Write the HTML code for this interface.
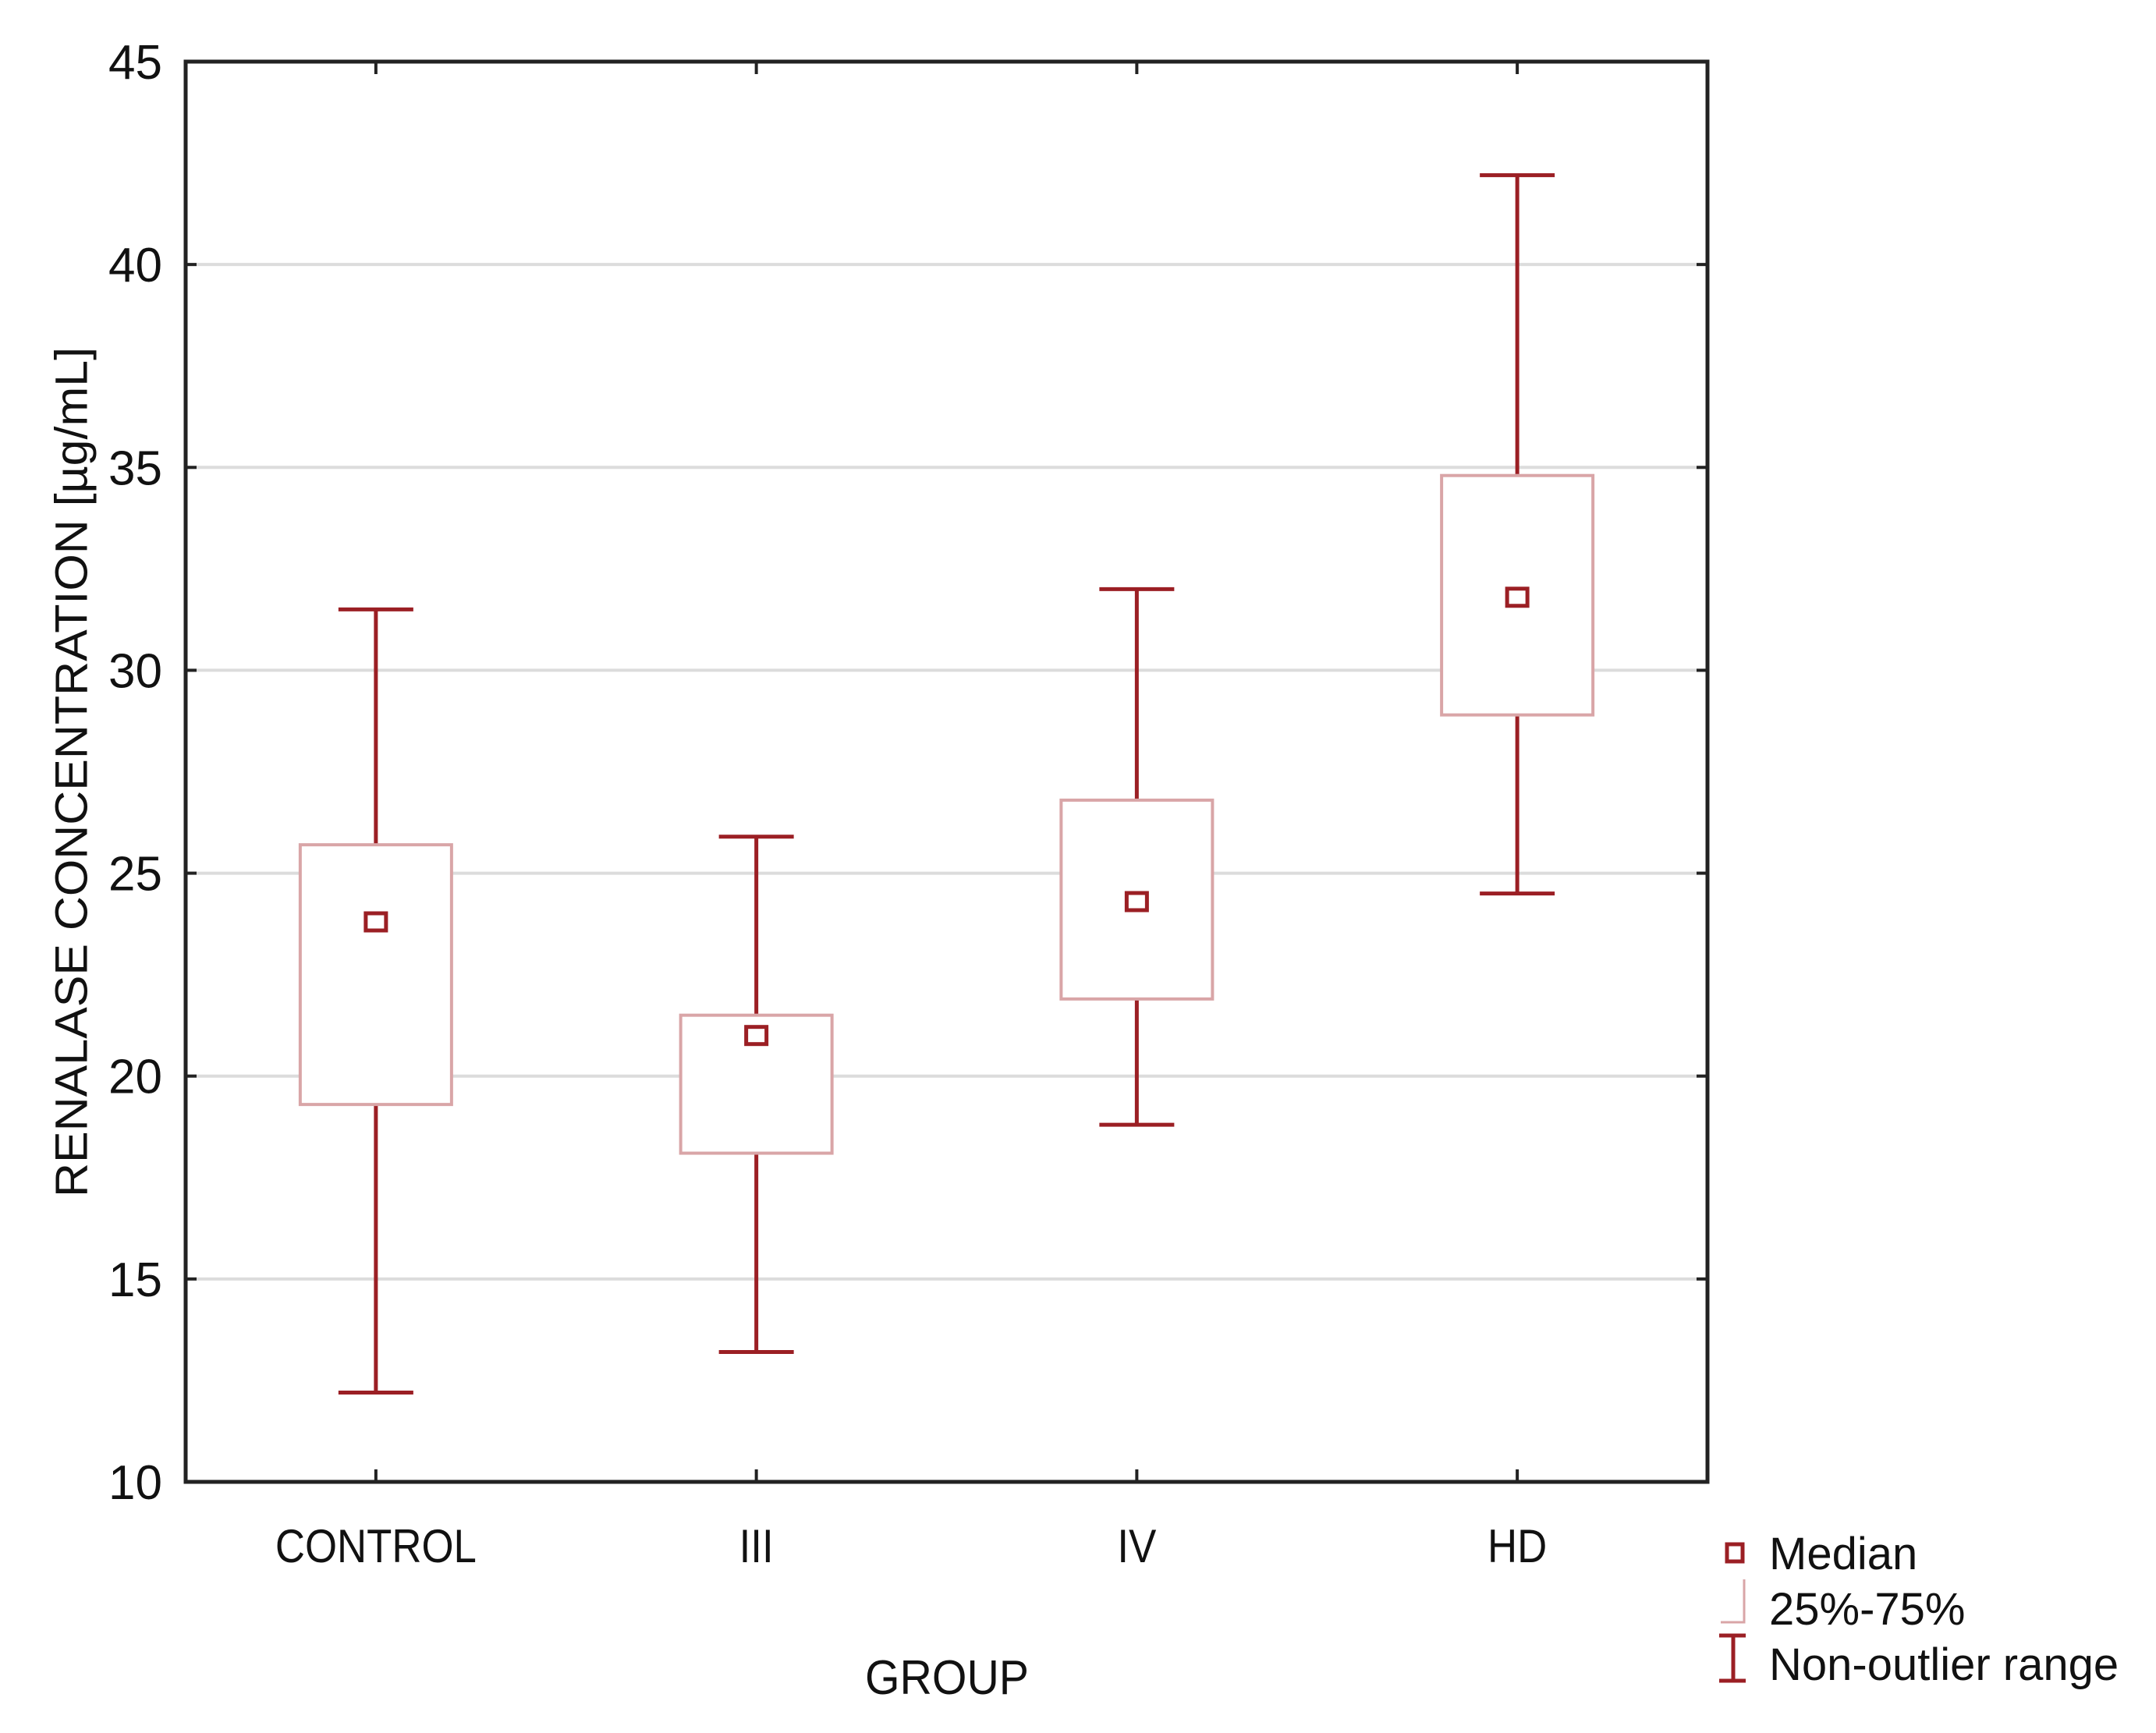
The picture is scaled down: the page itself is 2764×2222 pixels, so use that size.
<!DOCTYPE html>
<html><head><meta charset="utf-8"><style>
html,body{margin:0;padding:0;background:#fff;}
svg{display:block;}
text{font-family:"Liberation Sans",sans-serif;fill:#111;}
</style></head><body>
<svg id="chart" width="2764" height="2222" viewBox="0 0 2764 2222" xmlns="http://www.w3.org/2000/svg">
<rect x="0" y="0" width="2764" height="2222" fill="#fff"/>
<g id="grid"></g>
<g id="marks"></g>
<rect x="238" y="79" width="1951" height="1821" fill="none" stroke="#222" stroke-width="5"/>
<g id="axes"></g>
<text x="92" y="990" transform="rotate(-90 92 990)" text-anchor="middle" font-size="58" textLength="1090" lengthAdjust="spacingAndGlyphs" dominant-baseline="central">RENALASE CONCENTRATION [µg/mL]</text>
<text x="1214" y="2172" text-anchor="middle" font-size="62" textLength="210" lengthAdjust="spacingAndGlyphs">GROUP</text>
<g>
  <rect x="2214" y="1980" width="20" height="22" fill="none" stroke="#9b1f24" stroke-width="5"/>
  <text x="2268" y="2012" font-size="58">Median</text>
  <polyline points="2206,2080 2236,2080 2236,2025" fill="none" stroke="#d9a5a7" stroke-width="3"/>
  <text x="2268" y="2083" font-size="58">25%-75%</text>
  <path d="M2204 2097 H2238 M2222 2097 V2155 M2204 2155 H2238" fill="none" stroke="#9b1f24" stroke-width="5"/>
  <text x="2268" y="2154" font-size="58">Non-outlier range</text>
</g>
</svg>
<script>
const categories = ["CONTROL","III","IV","HD"];
const whiskerHigh = [31.5, 25.9, 32.0, 42.2];
const whiskerLow = [12.2, 13.2, 18.8, 24.5];
const q3 = [25.7, 21.5, 26.8, 34.8];
const q1 = [19.3, 18.1, 21.9, 28.9];
const medians = [23.8, 21.0, 24.3, 31.8];
const yTicks = [10, 15, 20, 25, 30, 35, 40, 45];

const NS = "http://www.w3.org/2000/svg";
const L = 238, R = 2189, T = 79, B = 1900, yMin = 10, yMax = 45;
function yScale(v){ return B - (v - yMin) / (yMax - yMin) * (B - T); }
function xScale(i){ return L + (R - L) / categories.length * (i + 0.5); }
function mk(tag, attrs, parent){ const e = document.createElementNS(NS, tag); for (const k in attrs) e.setAttribute(k, attrs[k]); parent.appendChild(e); return e; }

const grid = document.getElementById("grid");
const axes = document.getElementById("axes");
const marks = document.getElementById("marks");

yTicks.forEach(v => {
  const y = yScale(v);
  if (v > yMin && v < yMax) {
    const g = mk("line", {x1: L, x2: R, y1: y, y2: y, stroke: "#dcdcdc", "stroke-width": 4}, grid);
    
    
  }
  const t1 = mk("line", {x1: L, x2: L + 14, y1: y, y2: y, stroke: "#222", "stroke-width": 4}, axes);
  
  
  const t2 = mk("line", {x1: R - 14, x2: R, y1: y, y2: y, stroke: "#222", "stroke-width": 4}, axes);
  
  
  const lb = mk("text", {x: 208, y: y + 22, "text-anchor": "end", "font-size": 62}, axes);
  lb.textContent = v;
  
  
});

categories.forEach((c, i) => {
  const x = xScale(i);
  const tb = mk("line", {x1: x, x2: x, y1: B - 16, y2: B, stroke: "#222", "stroke-width": 4}, axes);
  
  
  const tt = mk("line", {x1: x, x2: x, y1: T, y2: T + 16, stroke: "#222", "stroke-width": 4}, axes);
  
  
  const lb = mk("text", {x: x, y: 2003, "text-anchor": "middle", "font-size": 60, transform: "translate(" + x + " 0) scale(0.88 1) translate(" + (-x) + " 0)"}, axes);
  lb.textContent = c;
  
  

  const g = mk("g", {}, marks);
  
  
  const w1 = mk("line", {x1: x, x2: x, y1: yScale(whiskerHigh[i]), y2: yScale(q3[i]), stroke: "#9b1f24", "stroke-width": 5}, g);
  
  
  const w2 = mk("line", {x1: x, x2: x, y1: yScale(q1[i]), y2: yScale(whiskerLow[i]), stroke: "#9b1f24", "stroke-width": 5}, g);
  
  
  const c1 = mk("line", {x1: x - 48, x2: x + 48, y1: yScale(whiskerHigh[i]), y2: yScale(whiskerHigh[i]), stroke: "#9b1f24", "stroke-width": 5}, g);
  
  
  const c2 = mk("line", {x1: x - 48, x2: x + 48, y1: yScale(whiskerLow[i]), y2: yScale(whiskerLow[i]), stroke: "#9b1f24", "stroke-width": 5}, g);
  
  
  const bx = mk("rect", {x: x - 97, width: 194, y: yScale(q3[i]), height: yScale(q1[i]) - yScale(q3[i]), fill: "#fff", stroke: "#d9a5a7", "stroke-width": 4}, g);
  
  
  const md = mk("rect", {x: x - 13, y: yScale(medians[i]) - 11, width: 26, height: 22, fill: "#fff", stroke: "#9b1f24", "stroke-width": 5}, g);
  
  
});
</script>
</body></html>
